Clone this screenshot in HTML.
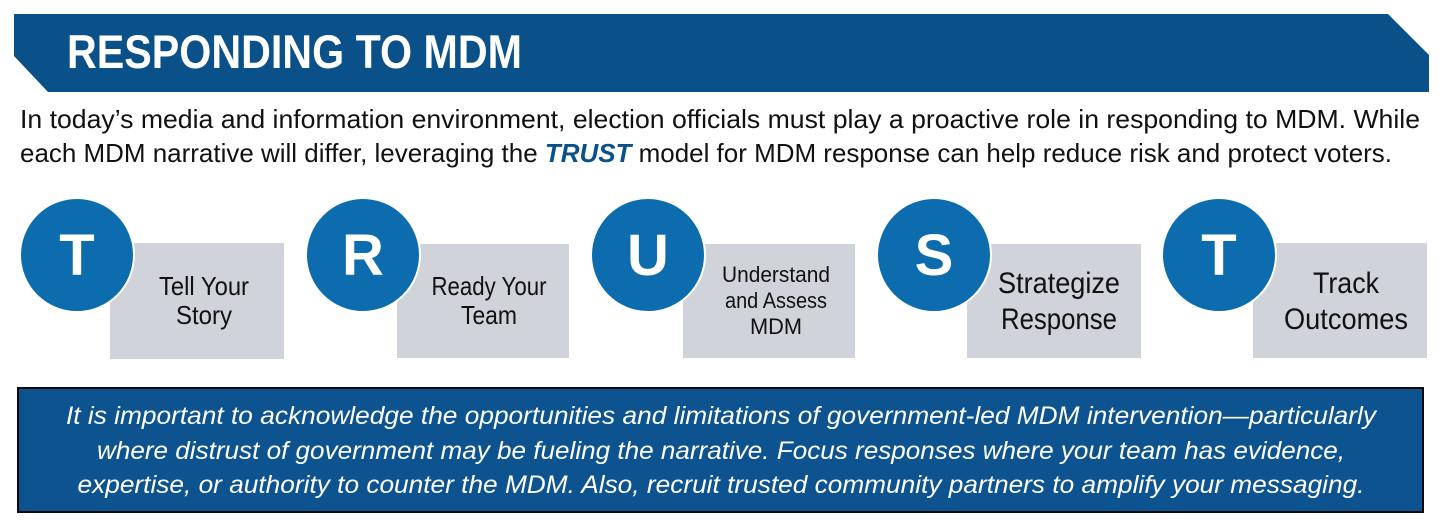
<!DOCTYPE html>
<html><head><meta charset="utf-8"><style>
html,body{margin:0;padding:0;background:#fff;}
svg{display:block;}
</style></head><body>
<svg width="1439" height="529" viewBox="0 0 1439 529" xmlns="http://www.w3.org/2000/svg">
<polygon points="14,14 1388,14 1429,55 1429,92 48,92 14,56" fill="#0b5189"/>
<text x="67" y="68" font-family="Liberation Sans, sans-serif" font-weight="bold" font-size="47" fill="#fff" textLength="455" lengthAdjust="spacingAndGlyphs">RESPONDING TO MDM</text>
<g font-family="Liberation Sans, sans-serif" font-size="26" fill="#111">
<text x="20" y="128" textLength="1400" lengthAdjust="spacingAndGlyphs">In today’s media and information environment, election officials must play a proactive role in responding to MDM. While</text>
<text x="20" y="162" textLength="1372" lengthAdjust="spacingAndGlyphs">each MDM narrative will differ, leveraging the <tspan fill="#0b5189" font-style="italic" font-weight="bold">TRUST</tspan> model for MDM response can help reduce risk and protect voters.</text>
</g>
<g fill="#d0d3da">
<rect x="110" y="243" width="174" height="116"/>
<rect x="397" y="244" width="172" height="114"/>
<rect x="683" y="244" width="172" height="114"/>
<rect x="967" y="244" width="174" height="114"/>
<rect x="1253" y="243" width="174" height="115"/>
</g>
<g fill="#0d6cad" stroke="#fff" stroke-width="2">
<circle cx="77" cy="255" r="57"/>
<circle cx="363" cy="255" r="57"/>
<circle cx="648" cy="255" r="57"/>
<circle cx="934" cy="255" r="57"/>
<circle cx="1219" cy="255" r="57"/>
</g>
<g font-family="Liberation Sans, sans-serif" font-weight="bold" font-size="58" fill="#fff" text-anchor="middle">
<text x="77" y="275">T</text>
<text x="363" y="275">R</text>
<text x="648" y="275">U</text>
<text x="934" y="275">S</text>
<text x="1219" y="275">T</text>
</g>
<g font-family="Liberation Sans, sans-serif" fill="#111" text-anchor="middle">
<text x="204" y="295" font-size="26" textLength="90" lengthAdjust="spacingAndGlyphs">Tell Your</text>
<text x="204" y="324" font-size="26" textLength="56" lengthAdjust="spacingAndGlyphs">Story</text>
<text x="489" y="295" font-size="26" textLength="115" lengthAdjust="spacingAndGlyphs">Ready Your</text>
<text x="489" y="324" font-size="26" textLength="56" lengthAdjust="spacingAndGlyphs">Team</text>
<text x="776" y="282" font-size="22" textLength="108" lengthAdjust="spacingAndGlyphs">Understand</text>
<text x="776" y="308" font-size="22" textLength="102" lengthAdjust="spacingAndGlyphs">and Assess</text>
<text x="776" y="334" font-size="22" textLength="52" lengthAdjust="spacingAndGlyphs">MDM</text>
<text x="1059" y="293" font-size="30" textLength="122" lengthAdjust="spacingAndGlyphs">Strategize</text>
<text x="1059" y="329" font-size="30" textLength="116" lengthAdjust="spacingAndGlyphs">Response</text>
<text x="1346" y="293" font-size="30" textLength="66" lengthAdjust="spacingAndGlyphs">Track</text>
<text x="1346" y="329" font-size="30" textLength="124" lengthAdjust="spacingAndGlyphs">Outcomes</text>
</g>
<rect x="18" y="388" width="1405" height="124" fill="#0d5390" stroke="#0a0a0a" stroke-width="2"/>
<g font-family="Liberation Sans, sans-serif" font-style="italic" font-size="25" fill="#fff" text-anchor="middle">
<text x="721" y="424" textLength="1310" lengthAdjust="spacingAndGlyphs">It is important to acknowledge the opportunities and limitations of government-led MDM intervention—particularly</text>
<text x="721" y="459" textLength="1248" lengthAdjust="spacingAndGlyphs">where distrust of government may be fueling the narrative. Focus responses where your team has evidence,</text>
<text x="721" y="493" textLength="1287" lengthAdjust="spacingAndGlyphs">expertise, or authority to counter the MDM. Also, recruit trusted community partners to amplify your messaging.</text>
</g>
</svg>
</body></html>
